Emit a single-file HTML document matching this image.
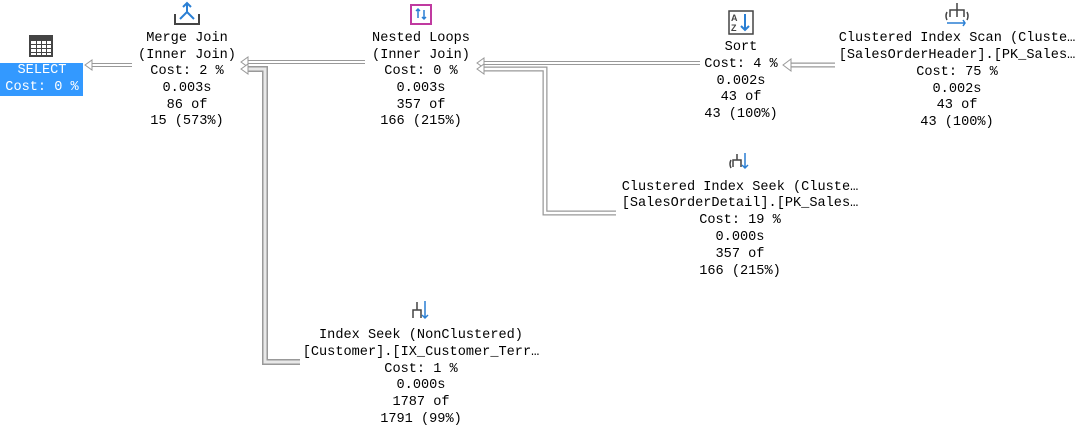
<!DOCTYPE html>
<html><head><meta charset="utf-8"><style>
body{margin:0;width:1081px;height:430px;background:#fff;position:relative;overflow:hidden;font-family:"Liberation Mono","Courier New",monospace;font-size:13.6px;color:#000}
.t{position:absolute;width:300px;margin-left:-150px;margin-top:2px;text-align:center;line-height:16px;height:16px;white-space:pre}
svg{position:absolute;left:0;top:0}
</style></head><body>
<svg width="1081" height="430">
<g fill="none" stroke-linejoin="miter">
 <g><polyline points="132,65 90,65" stroke="#999" stroke-width="4"/><polyline points="132,65 90,65" stroke="#fff" stroke-width="2"/>
 <path d="M85,65 L92,60 L92,70 Z" fill="#fff" stroke="#999" stroke-width="1"/></g>
 <polyline points="365,62 246,62" stroke="#999" stroke-width="4"/><polyline points="365,62 246,62" stroke="#fff" stroke-width="2"/>
 <path d="M241,62 L248,57 L248,67 Z" fill="#fff" stroke="#999"/>
 <polyline points="300,362 265,362 265,69 246,69" stroke="#999" stroke-width="6"/><polyline points="300,362 265,362 265,69 246,69" stroke="#e8e8e8" stroke-width="3"/>
 <path d="M241,69 L248,64 L248,74 Z" fill="#fff" stroke="#999"/>
 <polyline points="700,63 482,63" stroke="#999" stroke-width="4"/><polyline points="700,63 482,63" stroke="#fff" stroke-width="2"/>
 <path d="M477,63 L484,58 L484,68 Z" fill="#fff" stroke="#999"/>
 <polyline points="616,213 545,213 545,69 482,69" stroke="#999" stroke-width="5"/><polyline points="616,213 545,213 545,69 482,69" stroke="#fff" stroke-width="2.5"/>
 <path d="M477,69 L484,64 L484,74 Z" fill="#fff" stroke="#999"/>
 <polyline points="835,65 790,65" stroke="#999" stroke-width="5"/><polyline points="835,65 790,65" stroke="#fff" stroke-width="2.5"/>
 <path d="M783,65 L791,59 L791,71 Z" fill="#fff" stroke="#999"/>
</g>
<rect x="29" y="35" width="24" height="22" fill="#444"/>
<g fill="#fff"><rect x="31" y="41" width="20" height="14"/></g>
<g stroke="#444" stroke-width="1"><line x1="31" y1="44.5" x2="51" y2="44.5"/><line x1="31" y1="48.5" x2="51" y2="48.5"/><line x1="31" y1="52.5" x2="51" y2="52.5"/><line x1="36.5" y1="41" x2="36.5" y2="55"/><line x1="41.5" y1="41" x2="41.5" y2="55"/><line x1="46.5" y1="41" x2="46.5" y2="55"/></g>
<rect x="0" y="63" width="83" height="33" fill="#3399ff"/>
<g fill="none" stroke="#444" stroke-width="2"><path d="M175,14 V24 H199 V14"/></g>
<g fill="none" stroke="#2a7fd4" stroke-width="2"><path d="M187,3 V12 L180,19 M187,12 L194,19 M183,7 L187,3 L191,7"/></g>
<rect x="411" y="5" width="20" height="19" fill="none" stroke="#c03aa0" stroke-width="2"/>
<path d="M418,9 V18 M424,10 V19 M416,11 L418,9 L420,11 M422,17 L424,19 L426,17" stroke="#2a7fd4" stroke-width="1.5" fill="none"/>
<rect x="729" y="11" width="24" height="23" fill="#fff" stroke="#444" stroke-width="1.5"/>
<text x="731" y="21" font-size="9" font-family="Liberation Sans" font-weight="bold" fill="#444">A</text>
<text x="731" y="31" font-size="9" font-family="Liberation Sans" font-weight="bold" fill="#444">Z</text>
<path d="M745,14 V30 M741,26 L745,30 L749,26" stroke="#2a7fd4" stroke-width="2" fill="none"/>
<g fill="none" stroke="#444" stroke-width="1.5"><path d="M957,3 V10 M950,17 V10 H964 V17 M957,10 V17"/><path d="M947,12 Q945,16 947,20 M967,12 Q969,16 967,20"/></g>
<path d="M947,23 H965 M963,20 L965,23 L963,26" stroke="#2a7fd4" stroke-width="1.5" fill="none"/>
<g fill="none" stroke="#444" stroke-width="1.5"><path d="M733,167 V160 H741 V167 M737,160 V154 M731,160 Q729,164 731,168"/></g>
<path d="M745,153 V168 M742,165 L745,168 L748,165" stroke="#2a7fd4" stroke-width="1.5" fill="none"/>
<g fill="none" stroke="#444" stroke-width="1.5"><path d="M413,318 V310 H421 V318 M417,310 V302"/></g>
<path d="M425,301 V318 M422,315 L425,318 L428,315" stroke="#2a7fd4" stroke-width="1.5" fill="none"/>
</svg>

<div class="t" style="left:42px;top:61px;color:#fff">SELECT</div>
<div class="t" style="left:42px;top:78px;color:#fff">Cost: 0 %</div>

<div class="t" style="left:187px;top:29px">Merge Join</div>
<div class="t" style="left:187px;top:46px">(Inner Join)</div>
<div class="t" style="left:187px;top:62px">Cost: 2 %</div>
<div class="t" style="left:187px;top:79px">0.003s</div>
<div class="t" style="left:187px;top:96px">86 of</div>
<div class="t" style="left:187px;top:112px">15 (573%)</div>

<div class="t" style="left:421px;top:29px">Nested Loops</div>
<div class="t" style="left:421px;top:46px">(Inner Join)</div>
<div class="t" style="left:421px;top:62px">Cost: 0 %</div>
<div class="t" style="left:421px;top:79px">0.003s</div>
<div class="t" style="left:421px;top:96px">357 of</div>
<div class="t" style="left:421px;top:112px">166 (215%)</div>

<div class="t" style="left:741px;top:38px">Sort</div>
<div class="t" style="left:741px;top:55px">Cost: 4 %</div>
<div class="t" style="left:741px;top:72px">0.002s</div>
<div class="t" style="left:741px;top:88px">43 of</div>
<div class="t" style="left:741px;top:105px">43 (100%)</div>

<div class="t" style="left:957px;top:29px">Clustered Index Scan (Cluste…</div>
<div class="t" style="left:957px;top:46px">[SalesOrderHeader].[PK_Sales…</div>
<div class="t" style="left:957px;top:63px">Cost: 75 %</div>
<div class="t" style="left:957px;top:80px">0.002s</div>
<div class="t" style="left:957px;top:96px">43 of</div>
<div class="t" style="left:957px;top:113px">43 (100%)</div>

<div class="t" style="left:740px;top:178px">Clustered Index Seek (Cluste…</div>
<div class="t" style="left:740px;top:194px">[SalesOrderDetail].[PK_Sales…</div>
<div class="t" style="left:740px;top:211px">Cost: 19 %</div>
<div class="t" style="left:740px;top:228px">0.000s</div>
<div class="t" style="left:740px;top:245px">357 of</div>
<div class="t" style="left:740px;top:262px">166 (215%)</div>

<div class="t" style="left:421px;top:326px">Index Seek (NonClustered)</div>
<div class="t" style="left:421px;top:343px">[Customer].[IX_Customer_Terr…</div>
<div class="t" style="left:421px;top:360px">Cost: 1 %</div>
<div class="t" style="left:421px;top:376px">0.000s</div>
<div class="t" style="left:421px;top:393px">1787 of</div>
<div class="t" style="left:421px;top:410px">1791 (99%)</div>
</body></html>
